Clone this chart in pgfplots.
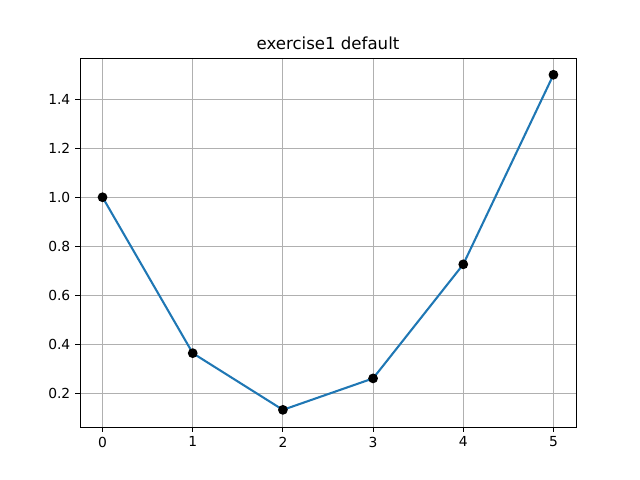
\documentclass[border=0pt]{standalone}
\usepackage{pgfplots}
\pgfplotsset{compat=1.18}
\usepackage{fontspec}
\setmainfont{DejaVu Sans}
\definecolor{mplblue}{HTML}{1F77B4}
\begin{document}
\begin{tikzpicture}[x=1in,y=1in]
\path[use as bounding box] (-0.80,-0.53) rectangle (5.60,4.27);
\begin{axis}[
  at={(0,0)}, anchor=south west,
  scale only axis, width=4.96in, height=3.69in,
  xmin=-0.25, xmax=5.25, ymin=0.0622, ymax=1.5684,
  xtick={0,1,2,3,4,5},
  ytick={0.2,0.4,0.6,0.8,1.0,1.2,1.4},
  yticklabel style={/pgf/number format/.cd,fixed,fixed zerofill,precision=1},
  /pgf/number format/assume math mode=true,
  tick label style={font=\fontsize{10}{12}\selectfont},
  tick align=outside, tick pos=left,
  major tick length=3.5pt,
  every tick/.style={black, line width=0.8pt},
  grid=major,
  major grid style={color=black!31, line width=0.8pt},
  axis line style={line width=0.7pt},
  title={exercise1 default},
  title style={font=\fontsize{12}{14}\selectfont, yshift=-3.5pt},
]
\addplot[mplblue, line width=1.5pt, mark=*, mark size=3pt, mark options={black, fill=black, line width=1pt}] coordinates {
(0,1.0) (1,0.3636) (2,0.1322) (3,0.2606) (4,0.7262) (5,1.5)
};
\end{axis}
\end{tikzpicture}
\end{document}
